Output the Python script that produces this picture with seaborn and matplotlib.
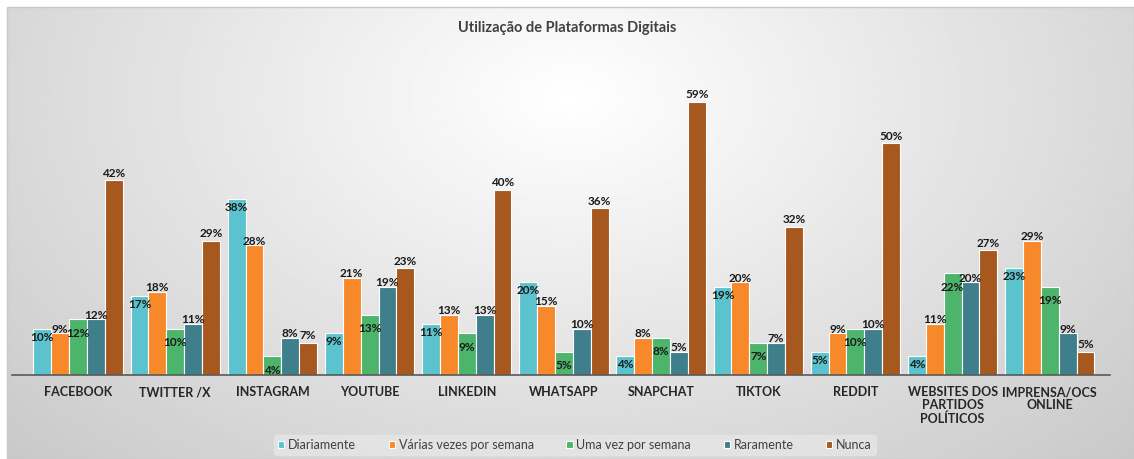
import numpy as np
import pandas as pd
import matplotlib
matplotlib.use("Agg")
import matplotlib.pyplot as plt
import seaborn as sns
from matplotlib.patches import Rectangle

sns.set_theme(style="white")
plt.rcParams['font.family'] = ['Lato', 'DejaVu Sans']

categories = ["FACEBOOK", "TWITTER /X", "INSTAGRAM", "YOUTUBE", "LINKEDIN", "WHATSAPP",
              "SNAPCHAT", "TIKTOK", "REDDIT", "WEBSITES DOS\nPARTIDOS\nPOLÍTICOS",
              "IMPRENSA/OCS\nONLINE"]
series = ["Diariamente", "Várias vezes por semana", "Uma vez por semana", "Raramente", "Nunca"]
diariamente = [10, 17, 38, 9, 11, 20, 4, 19, 5, 4, 23]
varias = [9, 18, 28, 21, 13, 15, 8, 20, 9, 11, 29]
uma_vez = [12, 10, 4, 13, 9, 5, 8, 7, 10, 22, 19]
raramente = [12, 11, 8, 19, 13, 10, 5, 7, 10, 20, 9]
nunca = [42, 29, 7, 23, 40, 36, 59, 32, 50, 27, 5]
colors = ["#5BC3CD", "#F7892B", "#4DB46B", "#3F7F8C", "#A7581F"]
title = "Utilização de Plataformas Digitais"

vals = [diariamente, varias, uma_vez, raramente, nunca]
df = pd.DataFrame({
    "cat": [c for s in series for c in categories],
    "serie": [s for s in series for c in categories],
    "val": [v for vs in vals for v in vs],
})

W, H = 1134, 459
fig = plt.figure(figsize=(W / 100, H / 100), dpi=100)
fig.patch.set_facecolor("white")

# background gradient panel
bg = fig.add_axes([7 / W, 0, 1 - 7 / W, 1 - 7 / H], zorder=0)
yy, xx = np.mgrid[-1:1:200j, -1:1:400j]
r = np.sqrt((xx * 0.9) ** 2 + ((yy + 0.6) * 0.55) ** 2)
grad = 1.0 - 0.22 * np.clip(r, 0, 1.3) / 1.3
bg.imshow(grad, cmap="gray", vmin=0, vmax=1, aspect="auto", extent=[0, 1, 0, 1])
bg.set_axis_off()
fig.add_artist(Rectangle((7 / W, 0), 1 - 7 / W, 1 - 7 / H, transform=fig.transFigure,
                         fill=False, edgecolor="#c8c8c8", linewidth=1, zorder=1))

ax = fig.add_axes([12 / W, 84 / H, (1110 - 12) / W, 0.656], zorder=2)
ax.patch.set_alpha(0)
sns.barplot(data=df, x="cat", y="val", hue="serie", hue_order=series, order=categories,
            palette=colors, width=0.92, edgecolor="white", linewidth=0.8,
            saturation=1, ax=ax, legend=True)
ax.set_ylim(0, 65)
ax.set_xlim(-0.68, 10.62)
paddings = [-10, -1, -14, -1, 1]
for cont, pad in zip(ax.containers, paddings):
    ax.bar_label(cont, labels=[f"{int(round(b.get_height()))}%" for b in cont],
                 padding=pad, fontsize=8.5, fontweight="bold", color="#1a1a1a")
sns.despine(ax=ax, left=True, top=True, right=True)
ax.spines["bottom"].set_color("#595959")
ax.spines["bottom"].set_linewidth(1.2)
ax.set_yticks([])
ax.set_xlabel("")
ax.set_ylabel("")
ax.tick_params(axis="x", length=0, pad=8)
for lab in ax.get_xticklabels():
    lab.set_fontweight("bold")
    lab.set_fontsize(9)
    lab.set_color("#262626")
    lab.set_linespacing(1.1)
    lab.set_verticalalignment("top")
    lab.set_multialignment("center")

leg = ax.legend(loc="center", bbox_to_anchor=(575 / W, 1 - 445 / H), bbox_transform=fig.transFigure,
                ncol=5, frameon=True, fontsize=9, handlelength=0.5, handleheight=0.5,
                handletextpad=0.3, columnspacing=2.6, borderpad=0.3)
leg.get_frame().set_facecolor("#e6e6e6")
leg.get_frame().set_edgecolor("#e6e6e6")
for t in leg.get_texts():
    t.set_color("#404040")

fig.text(0.5, 1 - 28 / H, title, ha="center", va="center", fontsize=10.5,
         fontweight="bold", color="#404040")

fig.savefig("out.png", dpi=100)
